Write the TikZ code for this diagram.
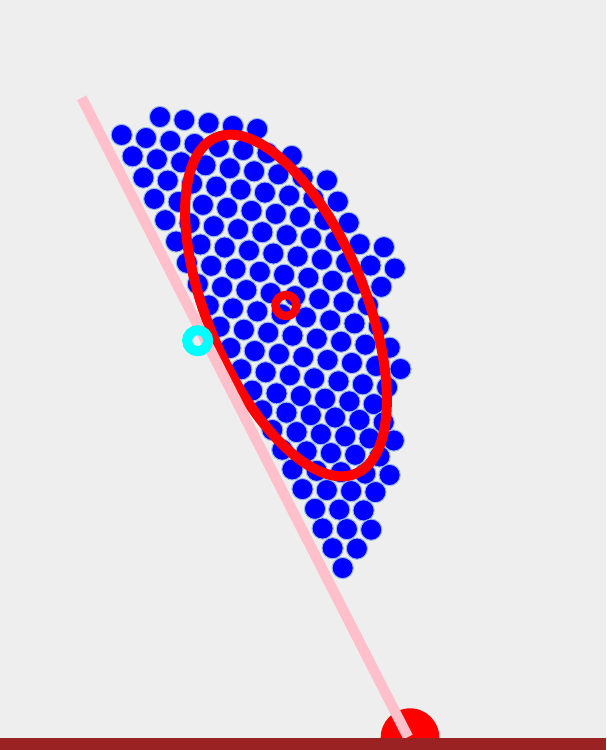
\documentclass[tikz,border=0pt]{standalone}
\usepackage{tikz}
\definecolor{bg}{RGB}{238,238,238}
\definecolor{ballblue}{RGB}{0,0,255}
\definecolor{balledge}{RGB}{150,185,235}
\definecolor{pinkline}{RGB}{255,192,203}
\definecolor{ringred}{RGB}{255,0,0}
\definecolor{barred}{RGB}{155,34,34}
\definecolor{ringcyan}{RGB}{0,255,255}
\begin{document}
\begin{tikzpicture}[x=1pt,y=-1pt,
  ball/.style={fill=ballblue, draw=balledge, line width=1pt},
  redstroke/.style={draw=ringred, line width=10pt}]
\fill[bg] (0,0) rectangle (606,750);
\useasboundingbox (0,0) rectangle (606,750);
% packed blue balls, row by row: start x / start y / last index / tilt
\foreach \sx/\sy/\last/\t in {
  160/117/4/3, 121.7/135/7/3, 132.6/156.3/8/3, 143.4/177.6/8/3,
  154.3/198.9/8/3, 165.2/220.2/9/3, 176.1/241.5/9/3, 186.9/262.8/8/3,
  197.8/284.1/7/3, 208.7/305.4/7/3, 219.6/326.7/7/3, 230.4/348/7/3,
  241.3/369.3/6/3, 252.2/390.6/5/2.7, 262.2/410.3/5/2.4, 272.3/430/5/2.1,
  282.3/449.7/4/1.7, 292.4/469.4/4/1.4, 302.5/489.1/3/1.0, 315/508.8/2/0.8,
  322.6/528.5/2/0.6, 332.6/548.2/1/0.4, 342.7/568/0/0}{
  \foreach \k in {0,...,\last}{
    \path[ball] ({\sx+\k*24.3},{\sy+\k*\t}) circle[radius=10.6pt];
  }
}
% big red ellipse
\draw[redstroke, rotate around={-67.5:(286,305.5)}] (286,305.5) ellipse[x radius=182pt, y radius=79pt];
% small red ring at the centre
\draw[draw=ringred, line width=8.5pt] (286,305.5) circle[radius=10.5pt];
% red disk at the bottom
\fill[ringred] (410,737.6) circle[radius=29.3pt];
% pink line
\draw[pinkline, line width=10.4pt] (81.7,97.8) -- (408,737);
% cyan ring
\draw[draw=ringcyan, line width=10pt] (197.7,340.7) circle[radius=10.5pt];
% ground bar
\fill[barred] (0,737.5) rectangle (606,750);
\end{tikzpicture}
\end{document}
